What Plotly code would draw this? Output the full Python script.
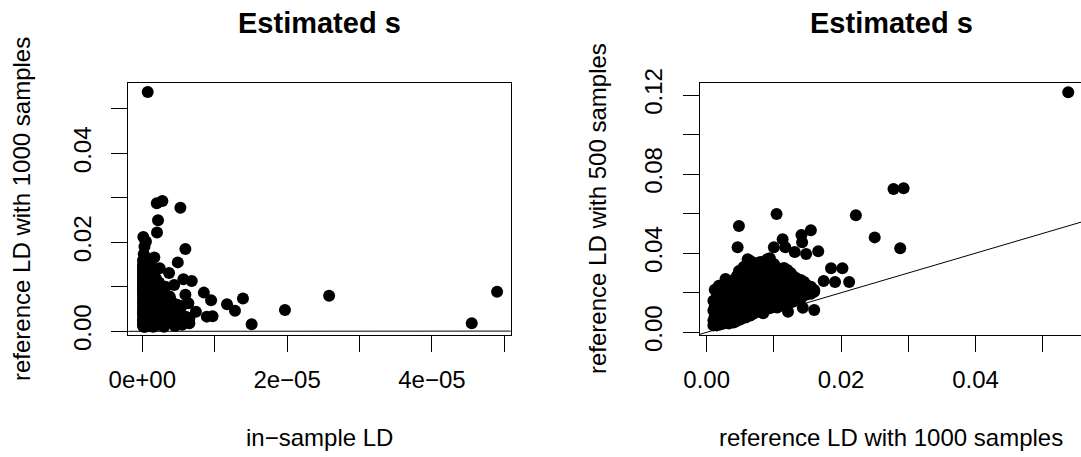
import plotly.graph_objects as go

# LD estimates per SNP pair: in-sample LD (stored in units of 1e-6),
# reference LD from 1000 samples, reference LD from 500 samples.
in_sample_ld_e6 = [
    0.75, 5.26, 2.00, 2.77, 2.17, 2.03, 0.14, 0.50, 5.95, 0.30,
    0.20, 4.90, 1.66, 3.70, 5.67, 6.83, 4.40, 3.20, 5.95, 8.50,
    9.50, 11.7, 12.8, 13.9, 15.1, 19.7, 25.8, 45.5, 49.0, 1.20,
    0.90, 2.40, 0.60, 0.40, 1.00, 0.70, 0.30, 0.50, 0.20, 5.45,
    6.36, 7.40, 6.50, 8.90, 9.70,
    0.2, 1.5, 0.4, 3.0, 0.1, 4.5, 0.8, 0.3, 2.2, 0.2,
    5.5, 0.6, 0.3, 1.2, 0.1, 6.5, 3.5, 0.5, 0.2, 1.8,
    0.1, 2.6, 0.7, 4.0, 0.3, 1.0, 0.2, 5.0, 0.6, 2.8,
    0.1, 0.4, 1.4, 0.2, 3.8, 0.8, 0.3, 6.0, 0.5, 1.6,
    0.2, 2.4, 0.9, 4.6, 0.4, 1.1, 0.1, 3.2, 0.7, 0.2,
    2.0, 0.5, 5.2, 0.3, 1.5, 0.1, 3.6, 0.6, 2.9, 0.2,
    1.0, 4.2, 0.4, 1.8, 0.1, 0.8, 0.2, 3.3, 0.6, 2.2,
    5.0, 0.5, 1.2, 0.3, 4.4, 0.1, 2.6, 0.7, 0.2, 1.6,
    0.4, 3.0, 0.9, 0.2, 0.6, 2.0, 0.3, 4.8, 0.8, 0.1,
    3.5, 1.3, 0.4, 2.4, 0.2, 0.9, 1.0, 0.3, 4.0, 0.6,
    0.2, 1.8, 0.5, 2.8, 0.1, 0.7, 3.2, 0.3, 1.4, 0.2,
    0.9, 2.2, 0.4, 1.6, 0.1, 0.6, 3.8, 0.3, 0.5, 2.6,
    0.2, 1.1, 0.8, 0.3, 1.9, 0.6, 0.2, 1.2, 0.4, 3.0,
    0.1, 0.7, 0.5, 2.1, 0.2, 1.0, 0.3, 0.9, 1.6, 0.1,
    0.6, 2.4, 0.4, 0.2, 1.3, 0.6, 0.1, 1.8, 0.3, 0.9,
    1.1, 0.2, 0.5, 2.7, 0.4, 0.8, 0.2, 1.5, 0.1, 0.3,
    2.0, 0.6, 0.2, 1.2, 0.1, 0.5, 0.9, 0.2, 1.7, 0.4,
    0.7, 0.6, 0.1, 2.3, 0.3, 1.0, 0.2, 0.5, 0.3, 1.4,
    0.1, 0.8, 0.4, 0.2, 1.9, 0.1, 0.9, 0.3, 0.6, 1.2,
    0.2, 0.5, 0.3, 0.8, 0.1, 0.6, 0.2, 1.5, 0.1, 0.4,
    1.0, 0.3, 0.7, 0.2, 0.5, 0.1, 0.2, 0.9, 0.4, 0.1,
    0.3, 0.2, 0.6, 0.1, 0.3, 0.5, 0.2, 0.1, 0.4, 0.2,
    0.3, 0.1,
]

ref_ld_1000 = [
    0.0538, 0.0278, 0.0288, 0.0293, 0.0250, 0.0222, 0.0212, 0.0202, 0.0185, 0.0191,
    0.0174, 0.0155, 0.0166, 0.0131, 0.0117, 0.0113, 0.0104, 0.0100, 0.0082, 0.0087,
    0.0070, 0.0061, 0.0046, 0.0074, 0.0016, 0.0048, 0.0080, 0.0018, 0.0089, 0.0148,
    0.0141, 0.0142, 0.0160, 0.0143, 0.0160, 0.0113, 0.0121, 0.0084, 0.0094, 0.0057,
    0.0063, 0.0044, 0.0029, 0.0033, 0.0034,
    0.0010, 0.0010, 0.0010, 0.0010, 0.0012, 0.0012, 0.0012, 0.0012, 0.0015, 0.0015,
    0.0015, 0.0015, 0.0018, 0.0018, 0.0018, 0.0018, 0.0020, 0.0020, 0.0020, 0.0020,
    0.0023, 0.0023, 0.0023, 0.0023, 0.0025, 0.0025, 0.0025, 0.0025, 0.0028, 0.0028,
    0.0028, 0.0028, 0.0030, 0.0030, 0.0030, 0.0030, 0.0033, 0.0033, 0.0033, 0.0033,
    0.0035, 0.0035, 0.0035, 0.0035, 0.0038, 0.0038, 0.0038, 0.0038, 0.0040, 0.0040,
    0.0040, 0.0040, 0.0040, 0.0043, 0.0043, 0.0043, 0.0043, 0.0045, 0.0045, 0.0045,
    0.0045, 0.0045, 0.0048, 0.0048, 0.0048, 0.0048, 0.0050, 0.0050, 0.0050, 0.0050,
    0.0050, 0.0053, 0.0053, 0.0053, 0.0053, 0.0055, 0.0055, 0.0055, 0.0055, 0.0058,
    0.0058, 0.0058, 0.0058, 0.0060, 0.0060, 0.0060, 0.0060, 0.0060, 0.0063, 0.0063,
    0.0063, 0.0063, 0.0065, 0.0065, 0.0065, 0.0065, 0.0068, 0.0068, 0.0068, 0.0068,
    0.0070, 0.0070, 0.0070, 0.0070, 0.0070, 0.0073, 0.0073, 0.0073, 0.0073, 0.0075,
    0.0075, 0.0075, 0.0075, 0.0078, 0.0078, 0.0078, 0.0078, 0.0078, 0.0080, 0.0080,
    0.0080, 0.0080, 0.0080, 0.0083, 0.0083, 0.0083, 0.0083, 0.0085, 0.0085, 0.0085,
    0.0085, 0.0085, 0.0088, 0.0088, 0.0088, 0.0088, 0.0090, 0.0090, 0.0090, 0.0090,
    0.0090, 0.0093, 0.0093, 0.0093, 0.0093, 0.0095, 0.0095, 0.0095, 0.0095, 0.0095,
    0.0098, 0.0098, 0.0098, 0.0098, 0.0100, 0.0100, 0.0100, 0.0100, 0.0100, 0.0103,
    0.0103, 0.0103, 0.0103, 0.0105, 0.0105, 0.0105, 0.0105, 0.0108, 0.0108, 0.0108,
    0.0108, 0.0110, 0.0110, 0.0110, 0.0110, 0.0113, 0.0113, 0.0113, 0.0115, 0.0115,
    0.0115, 0.0115, 0.0118, 0.0118, 0.0118, 0.0120, 0.0120, 0.0120, 0.0120, 0.0123,
    0.0123, 0.0123, 0.0125, 0.0125, 0.0125, 0.0128, 0.0128, 0.0128, 0.0130, 0.0130,
    0.0130, 0.0133, 0.0133, 0.0133, 0.0135, 0.0135, 0.0138, 0.0138, 0.0140, 0.0140,
    0.0140, 0.0143, 0.0143, 0.0145, 0.0145, 0.0148, 0.0148, 0.0150, 0.0150, 0.0155,
    0.0155, 0.0160,
]

ref_ld_500 = [
    0.1214, 0.0725, 0.0425, 0.0728, 0.0480, 0.0592, 0.0254, 0.0324, 0.0324, 0.0254,
    0.0259, 0.0516, 0.0410, 0.0406, 0.0430, 0.0470, 0.0598, 0.0430, 0.0180, 0.0220,
    0.0180, 0.0370, 0.0430, 0.0300, 0.0080, 0.0538, 0.0250, 0.0120, 0.0200, 0.0396,
    0.0492, 0.0455, 0.0113, 0.0124, 0.0214, 0.0147, 0.0104, 0.0096, 0.0374, 0.0150,
    0.0200, 0.0120, 0.0090, 0.0110, 0.0160,
    0.0035, 0.0060, 0.0110, 0.0160, 0.0045, 0.0080, 0.0130, 0.0215, 0.0040, 0.0090,
    0.0035, 0.0180, 0.0060, 0.0120, 0.0235, 0.0050, 0.0040, 0.0090, 0.0150, 0.0200,
    0.0050, 0.0110, 0.0170, 0.0065, 0.0045, 0.0135, 0.0235, 0.0080, 0.0065, 0.0100,
    0.0190, 0.0270, 0.0050, 0.0120, 0.0160, 0.0225, 0.0070, 0.0045, 0.0150, 0.0200,
    0.0055, 0.0095, 0.0250, 0.0130, 0.0080, 0.0140, 0.0180, 0.0065, 0.0050, 0.0110,
    0.0160, 0.0265, 0.0090, 0.0075, 0.0125, 0.0210, 0.0055, 0.0060, 0.0100, 0.0175,
    0.0285, 0.0140, 0.0085, 0.0145, 0.0230, 0.0310, 0.0065, 0.0110, 0.0190, 0.0255,
    0.0095, 0.0075, 0.0135, 0.0215, 0.0160, 0.0095, 0.0175, 0.0260, 0.0330, 0.0075,
    0.0125, 0.0200, 0.0295, 0.0085, 0.0150, 0.0225, 0.0345, 0.0120, 0.0100, 0.0170,
    0.0135, 0.0275, 0.0085, 0.0195, 0.0245, 0.0360, 0.0110, 0.0155, 0.0175, 0.0300,
    0.0095, 0.0135, 0.0220, 0.0265, 0.0335, 0.0115, 0.0160, 0.0205, 0.0305, 0.0105,
    0.0180, 0.0245, 0.0350, 0.0125, 0.0150, 0.0225, 0.0195, 0.0325, 0.0110, 0.0145,
    0.0200, 0.0275, 0.0355, 0.0130, 0.0175, 0.0235, 0.0305, 0.0115, 0.0160, 0.0215,
    0.0265, 0.0345, 0.0135, 0.0185, 0.0245, 0.0320, 0.0120, 0.0155, 0.0210, 0.0285,
    0.0370, 0.0145, 0.0195, 0.0255, 0.0335, 0.0125, 0.0170, 0.0225, 0.0295, 0.0355,
    0.0155, 0.0200, 0.0270, 0.0175, 0.0130, 0.0180, 0.0235, 0.0310, 0.0345, 0.0145,
    0.0215, 0.0265, 0.0330, 0.0125, 0.0170, 0.0245, 0.0295, 0.0155, 0.0190, 0.0225,
    0.0320, 0.0135, 0.0205, 0.0265, 0.0300, 0.0165, 0.0235, 0.0280, 0.0145, 0.0190,
    0.0255, 0.0325, 0.0175, 0.0220, 0.0290, 0.0135, 0.0200, 0.0245, 0.0315, 0.0160,
    0.0270, 0.0225, 0.0180, 0.0235, 0.0300, 0.0155, 0.0210, 0.0285, 0.0190, 0.0250,
    0.0215, 0.0175, 0.0275, 0.0230, 0.0205, 0.0260, 0.0185, 0.0240, 0.0215, 0.0265,
    0.0170, 0.0195, 0.0235, 0.0220, 0.0255, 0.0190, 0.0240, 0.0205, 0.0225, 0.0195,
    0.0230, 0.0205,
]

in_sample_ld = [v * 1e-6 for v in in_sample_ld_e6]

# Axis ticks (R-style: every tick drawn, overlapping labels dropped)
left_x_ticks = [0, 1e-5, 2e-5, 3e-5, 4e-5, 5e-5]
left_x_labels = ["0e+00", "", "2e\u221205", "", "4e\u221205", ""]
left_y_ticks = [0, 0.01, 0.02, 0.03, 0.04, 0.05]
left_y_labels = ["0.00", "", "0.02", "", "0.04", ""]
right_x_ticks = [0, 0.01, 0.02, 0.03, 0.04, 0.05]
right_x_labels = ["0.00", "", "0.02", "", "0.04", ""]
right_y_ticks = [0, 0.02, 0.04, 0.06, 0.08, 0.10, 0.12]
right_y_labels = ["0.00", "", "0.04", "", "0.08", "", "0.12"]

W, H = 1081, 457
FONT = "Liberation Sans, Arial, Helvetica, sans-serif"

# Plot regions in pixels (left, right, top, bottom)
L_BOX = (128.3, 510.7, 83.0, 335.0)
R_BOX = (700.0, 1081.0, 83.0, 335.0)

left_xrange = [-1.934e-6, 5.088e-5]
left_yrange = [-0.00083, 0.05584]
right_xrange = [-0.000997, 0.0557]
right_yrange = [-0.001365, 0.12607]


def px_x(p):
    return p / W


def px_y(p):
    return 1 - p / H


fig = go.Figure()

marker = dict(color="black", size=12, line=dict(width=0))

fig.add_trace(go.Scatter(x=in_sample_ld, y=ref_ld_1000, mode="markers",
                         marker=marker, xaxis="x", yaxis="y",
                         cliponaxis=False, showlegend=False))
fig.add_trace(go.Scatter(x=ref_ld_1000, y=ref_ld_500, mode="markers",
                         marker=marker, xaxis="x2", yaxis="y2",
                         cliponaxis=False, showlegend=False))

# identity lines y = x
fig.add_trace(go.Scatter(x=[-1, 1], y=[-1, 1], mode="lines",
                         line=dict(color="black", width=1),
                         xaxis="x", yaxis="y", showlegend=False))
fig.add_trace(go.Scatter(x=[-1, 1], y=[-1, 1], mode="lines",
                         line=dict(color="black", width=1),
                         xaxis="x2", yaxis="y2", showlegend=False))

axis_common = dict(
    showgrid=False, zeroline=False, ticks="outside", ticklen=16,
    tickwidth=1, tickcolor="black", showline=True, linecolor="black",
    linewidth=1, tickfont=dict(family=FONT, size=24, color="black"),
    tickmode="array", fixedrange=True, automargin=False,
)

fig.update_layout(
    width=W, height=H,
    margin=dict(l=0, r=0, t=0, b=0, pad=0, autoexpand=False),
    paper_bgcolor="white", plot_bgcolor="white",
    xaxis=dict(axis_common, domain=[px_x(L_BOX[0]), px_x(L_BOX[1])],
               range=left_xrange, tickvals=left_x_ticks, ticktext=left_x_labels,
               mirror=True, anchor="y", ticklabelstandoff=7),
    yaxis=dict(axis_common, domain=[px_y(L_BOX[3]), px_y(L_BOX[2])],
               range=left_yrange, tickvals=left_y_ticks, ticktext=left_y_labels,
               mirror=True, anchor="x", tickangle=-90, ticklabelstandoff=11),
    xaxis2=dict(axis_common, domain=[px_x(R_BOX[0]), 1.0],
                range=right_xrange, tickvals=right_x_ticks, ticktext=right_x_labels,
                mirror=True, anchor="y2", ticklabelstandoff=7),
    yaxis2=dict(axis_common, domain=[px_y(R_BOX[3]), px_y(R_BOX[2])],
                range=right_yrange, tickvals=right_y_ticks, ticktext=right_y_labels,
                mirror=False, anchor="x2", tickangle=-90, ticklabelstandoff=11),
)

title_font = dict(family=FONT, size=29, color="black")
label_font = dict(family=FONT, size=24, color="black")

annotations = [
    dict(text="<b>Estimated s</b>", x=px_x(319.5), y=px_y(23),
         font=title_font),
    dict(text="<b>Estimated s</b>", x=px_x(891.2), y=px_y(23),
         font=title_font),
    dict(text="in\u2212sample LD", x=px_x(319.5), y=px_y(437),
         font=label_font),
    dict(text="reference LD with 1000 samples", x=px_x(891.2), y=px_y(437),
         font=label_font),
    dict(text="reference LD with 1000 samples", x=px_x(21), y=px_y(209),
         textangle=-90, font=label_font),
    dict(text="reference LD with 500 samples", x=px_x(597), y=px_y(209),
         textangle=-90, font=label_font),
]
for a in annotations:
    a.update(xref="paper", yref="paper", showarrow=False,
             xanchor="center", yanchor="middle")
fig.update_layout(annotations=annotations)

fig.write_html("out.html")
